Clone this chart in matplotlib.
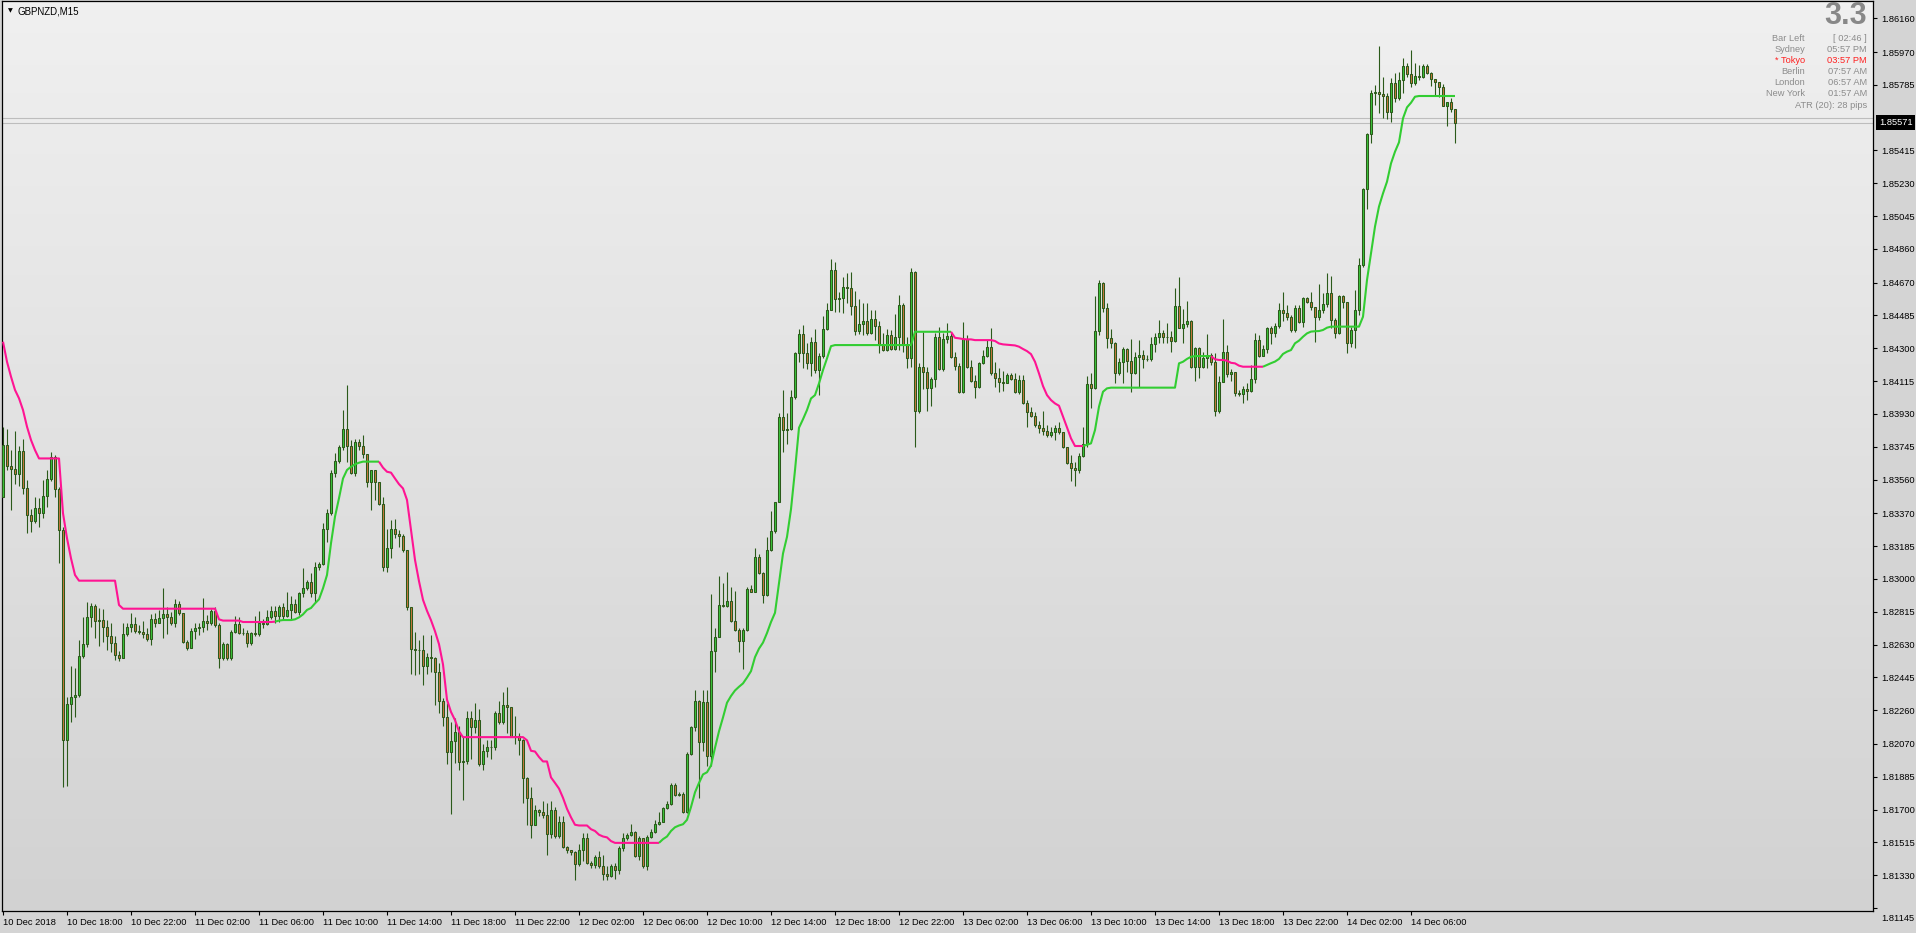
import numpy as np
import matplotlib
matplotlib.use('Agg')
import matplotlib.pyplot as plt
from matplotlib.colors import LinearSegmentedColormap
from matplotlib.transforms import ScaledTranslation

# ---- data (GBPNZD M15) ----
first_open = 1.83464

closes = [
    1.83755, 1.83636, 1.83618, 1.83589, 1.83721, 1.83511, 1.83358, 1.83328, 1.83398, 1.83373,  # 0
    1.83467, 1.83561, 1.83689, 1.83505, 1.83276, 1.82092, 1.82293, 1.82336, 1.82346, 1.82565,  # 10
    1.82631, 1.82783, 1.82847, 1.82763, 1.82768, 1.82731, 1.82678, 1.82640, 1.82569, 1.82552,  # 20
    1.82687, 1.82727, 1.82746, 1.82708, 1.82699, 1.82689, 1.82659, 1.82772, 1.82749, 1.82778,  # 30
    1.82802, 1.82783, 1.82753, 1.82857, 1.82806, 1.82646, 1.82612, 1.82706, 1.82721, 1.82731,  # 40
    1.82765, 1.82753, 1.82819, 1.82738, 1.82552, 1.82631, 1.82552, 1.82702, 1.82746, 1.82697,  # 50
    1.82693, 1.82640, 1.82693, 1.82689, 1.82749, 1.82747, 1.82787, 1.82819, 1.82791, 1.82843,  # 60
    1.82791, 1.82825, 1.82857, 1.82815, 1.82919, 1.82947, 1.82981, 1.82922, 1.83069, 1.83084,  # 70
    1.83279, 1.83370, 1.83599, 1.83665, 1.83742, 1.83843, 1.83751, 1.83595, 1.83770, 1.83751,  # 80
    1.83702, 1.83548, 1.83614, 1.83548, 1.83422, 1.83069, 1.83172, 1.83279, 1.83251, 1.83242,  # 90
    1.83163, 1.82843, 1.82603, 1.82599, 1.82601, 1.82507, 1.82559, 1.82553, 1.82476, 1.82309,  # 100
    1.82219, 1.82023, 1.82086, 1.82136, 1.81969, 1.81975, 1.82215, 1.82163, 1.82205, 1.81954,  # 110
    1.82031, 1.82054, 1.82052, 1.82246, 1.82194, 1.82288, 1.82277, 1.82111, 1.82115, 1.82090,  # 120
    1.81875, 1.81766, 1.81610, 1.81700, 1.81685, 1.81668, 1.81564, 1.81700, 1.81548, 1.81631,  # 130
    1.81491, 1.81470, 1.81458, 1.81391, 1.81470, 1.81537, 1.81401, 1.81385, 1.81433, 1.81381,  # 140
    1.81335, 1.81328, 1.81381, 1.81360, 1.81481, 1.81537, 1.81558, 1.81575, 1.81439, 1.81537,  # 150
    1.81381, 1.81543, 1.81575, 1.81621, 1.81631, 1.81708, 1.81731, 1.81839, 1.81783, 1.81787,  # 160
    1.81687, 1.82011, 1.82163, 1.82309, 1.82079, 1.82305, 1.82000, 1.82591, 1.82674, 1.82851,  # 170
    1.82845, 1.82878, 1.82762, 1.82710, 1.82649, 1.82711, 1.82941, 1.82928, 1.83122, 1.83035,  # 180
    1.82910, 1.83164, 1.83268, 1.83431, 1.83915, 1.83842, 1.83846, 1.84023, 1.84276, 1.84378,  # 190
    1.84271, 1.84218, 1.84333, 1.84177, 1.84256, 1.84406, 1.84515, 1.84741, 1.84576, 1.84581,  # 200
    1.84643, 1.84638, 1.84538, 1.84399, 1.84437, 1.84453, 1.84388, 1.84463, 1.84425, 1.84324,  # 210
    1.84290, 1.84373, 1.84294, 1.84361, 1.84544, 1.84324, 1.84243, 1.84728, 1.83949, 1.84192,  # 220
    1.84168, 1.84074, 1.84125, 1.84365, 1.84181, 1.84350, 1.84371, 1.84252, 1.84202, 1.84055,  # 230
    1.84352, 1.84196, 1.84117, 1.84083, 1.84215, 1.84256, 1.84305, 1.84158, 1.84134, 1.84111,  # 240
    1.84102, 1.84149, 1.84125, 1.84051, 1.84121, 1.83989, 1.83939, 1.83920, 1.83867, 1.83848,  # 250
    1.83835, 1.83811, 1.83830, 1.83852, 1.83826, 1.83741, 1.83651, 1.83623, 1.83614, 1.83692,  # 260
    1.83760, 1.84096, 1.84074, 1.84397, 1.84666, 1.84525, 1.84356, 1.84331, 1.84158, 1.84220,  # 270
    1.84296, 1.84230, 1.84162, 1.84252, 1.84262, 1.84237, 1.84239, 1.84322, 1.84365, 1.84384,  # 280
    1.84365, 1.84361, 1.84339, 1.84540, 1.84412, 1.84437, 1.84455, 1.84196, 1.84299, 1.84192,  # 290
    1.84243, 1.84262, 1.84220, 1.83949, 1.84108, 1.84281, 1.84153, 1.84164, 1.84046, 1.84040,  # 300
    1.84068, 1.84061, 1.84125, 1.84347, 1.84258, 1.84294, 1.84412, 1.84384, 1.84425, 1.84516,  # 310
    1.84497, 1.84478, 1.84403, 1.84525, 1.84450, 1.84581, 1.84563, 1.84531, 1.84478, 1.84516,  # 320
    1.84550, 1.84610, 1.84459, 1.84384, 1.84595, 1.84559, 1.84328, 1.84403, 1.84516, 1.84767,  # 330
    1.85196, 1.85506, 1.85737, 1.85746, 1.85731, 1.85724, 1.85630, 1.85793, 1.85709, 1.85812,  # 340
    1.85891, 1.85844, 1.85793, 1.85837, 1.85831, 1.85891, 1.85850, 1.85816, 1.85803, 1.85775,  # 350
    1.85667, 1.85686, 1.85647, 1.85571,                                                        # 360
]

highs = [
    1.83858, 1.83843, 1.83727, 1.83834, 1.83749, 1.83789, 1.83557, 1.83394, 1.83464, 1.83458,
    1.83557, 1.83614, 1.83717, 1.83698, 1.83520, 1.83294, 1.82336, 1.82511, 1.82500, 1.82656,
    1.82787, 1.82872, 1.82862, 1.82858, 1.82834, 1.82828, 1.82768, 1.82749, 1.82678, 1.82595,
    1.82749, 1.82749, 1.82806, 1.82783, 1.82740, 1.82763, 1.82725, 1.82802, 1.82806, 1.82825,
    1.82947, 1.82840, 1.82815, 1.82885, 1.82877, 1.82806, 1.82656, 1.82725, 1.82749, 1.82753,
    1.82890, 1.82797, 1.82828, 1.82843, 1.82753, 1.82646, 1.82637, 1.82712, 1.82791, 1.82783,
    1.82721, 1.82712, 1.82702, 1.82791, 1.82819, 1.82772, 1.82825, 1.82847, 1.82847, 1.82853,
    1.82866, 1.82928, 1.82904, 1.82885, 1.82928, 1.83060, 1.82994, 1.83031, 1.83097, 1.83097,
    1.83313, 1.83392, 1.83614, 1.83708, 1.83755, 1.83952, 1.84093, 1.83783, 1.83789, 1.83789,
    1.83811, 1.83702, 1.83614, 1.83614, 1.83548, 1.83464, 1.83281, 1.83332, 1.83336, 1.83276,
    1.83253, 1.83163, 1.82843, 1.82702, 1.82653, 1.82685, 1.82580, 1.82685, 1.82559, 1.82528,
    1.82330, 1.82298, 1.82194, 1.82215, 1.82173, 1.82111, 1.82257, 1.82257, 1.82302, 1.82267,
    1.82069, 1.82090, 1.82090, 1.82257, 1.82309, 1.82361, 1.82392, 1.82271, 1.82225, 1.82132,
    1.82100, 1.81881, 1.81829, 1.81725, 1.81704, 1.81746, 1.81735, 1.81746, 1.81714, 1.81662,
    1.81662, 1.81495, 1.81468, 1.81464, 1.81506, 1.81568, 1.81568, 1.81412, 1.81443, 1.81464,
    1.81443, 1.81381, 1.81391, 1.81401, 1.81495, 1.81568, 1.81568, 1.81620, 1.81579, 1.81548,
    1.81537, 1.81558, 1.81589, 1.81641, 1.81687, 1.81714, 1.81746, 1.81850, 1.81850, 1.81797,
    1.81797, 1.82027, 1.82173, 1.82371, 1.82319, 1.82371, 1.82371, 1.82913, 1.82726, 1.83018,
    1.82976, 1.83039, 1.82955, 1.82934, 1.82726, 1.82726, 1.82955, 1.82966, 1.83174, 1.83143,
    1.83039, 1.83237, 1.83383, 1.83435, 1.83936, 1.84067, 1.83936, 1.84067, 1.84280, 1.84409,
    1.84431, 1.84327, 1.84365, 1.84406, 1.84271, 1.84482, 1.84553, 1.84803, 1.84784, 1.84619,
    1.84703, 1.84722, 1.84728, 1.84623, 1.84576, 1.84557, 1.84553, 1.84515, 1.84515, 1.84453,
    1.84384, 1.84406, 1.84403, 1.84493, 1.84600, 1.84557, 1.84365, 1.84750, 1.84737, 1.84215,
    1.84393, 1.84196, 1.84140, 1.84388, 1.84421, 1.84388, 1.84440, 1.84384, 1.84277, 1.84215,
    1.84450, 1.84374, 1.84234, 1.84149, 1.84224, 1.84290, 1.84346, 1.84412, 1.84224, 1.84190,
    1.84172, 1.84158, 1.84158, 1.84158, 1.84149, 1.84149, 1.84009, 1.83971, 1.83942, 1.83892,
    1.83948, 1.83867, 1.83858, 1.83867, 1.83882, 1.83830, 1.83745, 1.83698, 1.83661, 1.83707,
    1.83858, 1.84143, 1.84158, 1.84594, 1.84685, 1.84675, 1.84553, 1.84406, 1.84337, 1.84243,
    1.84309, 1.84299, 1.84350, 1.84281, 1.84346, 1.84290, 1.84262, 1.84365, 1.84384, 1.84459,
    1.84403, 1.84444, 1.84399, 1.84638, 1.84703, 1.84519, 1.84566, 1.84459, 1.84309, 1.84309,
    1.84281, 1.84378, 1.84271, 1.84275, 1.84145, 1.84465, 1.84318, 1.84183, 1.84168, 1.84065,
    1.84087, 1.84102, 1.84206, 1.84384, 1.84375, 1.84318, 1.84422, 1.84425, 1.84440, 1.84553,
    1.84619, 1.84544, 1.84487, 1.84544, 1.84544, 1.84591, 1.84591, 1.84619, 1.84534, 1.84660,
    1.84610, 1.84722, 1.84709, 1.84469, 1.84600, 1.84600, 1.84563, 1.84422, 1.84628, 1.84807,
    1.85201, 1.85511, 1.85756, 1.85784, 1.86004, 1.85831, 1.85737, 1.85822, 1.85850, 1.85859,
    1.85934, 1.85906, 1.85981, 1.85906, 1.85897, 1.85900, 1.85900, 1.85859, 1.85812, 1.85803,
    1.85790, 1.85690, 1.85709, 1.85647,
]

lows = [
    1.83464, 1.83614, 1.83388, 1.83533, 1.83524, 1.83477, 1.83257, 1.83262, 1.83313, 1.83291,
    1.83341, 1.83407, 1.83554, 1.83464, 1.83092, 1.81825, 1.81834, 1.82195, 1.82223, 1.82336,
    1.82552, 1.82618, 1.82731, 1.82665, 1.82622, 1.82646, 1.82599, 1.82590, 1.82543, 1.82539,
    1.82552, 1.82680, 1.82702, 1.82693, 1.82687, 1.82665, 1.82652, 1.82627, 1.82731, 1.82749,
    1.82665, 1.82689, 1.82740, 1.82731, 1.82797, 1.82637, 1.82599, 1.82609, 1.82659, 1.82684,
    1.82702, 1.82712, 1.82740, 1.82731, 1.82496, 1.82543, 1.82543, 1.82543, 1.82693, 1.82689,
    1.82684, 1.82614, 1.82627, 1.82678, 1.82678, 1.82725, 1.82738, 1.82776, 1.82749, 1.82759,
    1.82768, 1.82783, 1.82768, 1.82806, 1.82797, 1.82900, 1.82937, 1.82900, 1.82872, 1.83050,
    1.83078, 1.83210, 1.83360, 1.83576, 1.83651, 1.83727, 1.83661, 1.83591, 1.83580, 1.83727,
    1.83680, 1.83520, 1.83388, 1.83445, 1.83417, 1.83046, 1.83041, 1.83116, 1.83229, 1.83182,
    1.83154, 1.82825, 1.82462, 1.82458, 1.82465, 1.82403, 1.82465, 1.82476, 1.82288, 1.82246,
    1.82173, 1.81954, 1.81673, 1.81965, 1.81923, 1.81756, 1.81954, 1.81986, 1.82132, 1.81948,
    1.81923, 1.81996, 1.81986, 1.82038, 1.82184, 1.82184, 1.82132, 1.82111, 1.82069, 1.82007,
    1.81735, 1.81610, 1.81537, 1.81610, 1.81662, 1.81652, 1.81443, 1.81537, 1.81537, 1.81537,
    1.81485, 1.81453, 1.81443, 1.81301, 1.81381, 1.81412, 1.81391, 1.81370, 1.81370, 1.81370,
    1.81301, 1.81301, 1.81318, 1.81308, 1.81339, 1.81464, 1.81527, 1.81548, 1.81433, 1.81418,
    1.81370, 1.81360, 1.81537, 1.81568, 1.81610, 1.81631, 1.81704, 1.81725, 1.81777, 1.81777,
    1.81683, 1.81683, 1.82007, 1.82142, 1.81766, 1.82031, 1.81944, 1.81948, 1.82476, 1.82670,
    1.82841, 1.82841, 1.82757, 1.82705, 1.82590, 1.82490, 1.82709, 1.82924, 1.82934, 1.83028,
    1.82862, 1.82903, 1.83158, 1.83258, 1.83477, 1.83717, 1.83763, 1.83842, 1.84013, 1.84222,
    1.84187, 1.84181, 1.84143, 1.84158, 1.84036, 1.84243, 1.84403, 1.84515, 1.84506, 1.84506,
    1.84500, 1.84553, 1.84487, 1.84375, 1.84380, 1.84375, 1.84375, 1.84378, 1.84346, 1.84271,
    1.84286, 1.84286, 1.84290, 1.84290, 1.84290, 1.84281, 1.84187, 1.84196, 1.83746, 1.83933,
    1.84068, 1.83948, 1.83976, 1.84083, 1.84177, 1.84173, 1.84331, 1.84243, 1.84177, 1.84049,
    1.84049, 1.84187, 1.84111, 1.84017, 1.84074, 1.84211, 1.84249, 1.84149, 1.84083, 1.84055,
    1.84061, 1.84102, 1.84121, 1.84046, 1.84042, 1.83986, 1.83858, 1.83914, 1.83858, 1.83820,
    1.83811, 1.83801, 1.83798, 1.83783, 1.83816, 1.83736, 1.83647, 1.83553, 1.83525, 1.83595,
    1.83685, 1.83745, 1.83961, 1.84068, 1.84375, 1.84506, 1.84299, 1.84299, 1.84102, 1.84149,
    1.84106, 1.84168, 1.84055, 1.84155, 1.84083, 1.84187, 1.84230, 1.84230, 1.84277, 1.84327,
    1.84327, 1.84327, 1.84281, 1.84337, 1.84412, 1.84327, 1.84418, 1.84187, 1.84115, 1.84130,
    1.84187, 1.84187, 1.84205, 1.83920, 1.83933, 1.84108, 1.84140, 1.84115, 1.84031, 1.84033,
    1.83989, 1.84008, 1.84055, 1.84102, 1.84252, 1.84258, 1.84275, 1.84322, 1.84365, 1.84416,
    1.84456, 1.84459, 1.84393, 1.84393, 1.84440, 1.84422, 1.84553, 1.84516, 1.84337, 1.84459,
    1.84497, 1.84534, 1.84416, 1.84356, 1.84380, 1.84525, 1.84275, 1.84305, 1.84303, 1.84487,
    1.84760, 1.85085, 1.85455, 1.85671, 1.85624, 1.85596, 1.85592, 1.85577, 1.85690, 1.85699,
    1.85737, 1.85831, 1.85771, 1.85784, 1.85812, 1.85822, 1.85844, 1.85778, 1.85728, 1.85718,
    1.85666, 1.85555, 1.85634, 1.85455,
]

# trailing indicator line
trail = [
    1.84337, 1.84224, 1.84140, 1.84065, 1.84018, 1.83952, 1.83858, 1.83783, 1.83726, 1.83679,
    1.83679, 1.83679, 1.83679, 1.83679, 1.83679, 1.83370, 1.83229, 1.83116, 1.83022, 1.82990,
    1.82990, 1.82990, 1.82990, 1.82990, 1.82990, 1.82990, 1.82990, 1.82990, 1.82990, 1.82853,
    1.82832, 1.82832, 1.82832, 1.82832, 1.82832, 1.82832, 1.82832, 1.82832, 1.82832, 1.82832,
    1.82832, 1.82832, 1.82832, 1.82832, 1.82832, 1.82832, 1.82832, 1.82832, 1.82832, 1.82832,
    1.82832, 1.82832, 1.82832, 1.82832, 1.82772, 1.82765, 1.82765, 1.82765, 1.82765, 1.82765,
    1.82757, 1.82757, 1.82757, 1.82757, 1.82757, 1.82757, 1.82757, 1.82757, 1.82759, 1.82765,
    1.82768, 1.82768, 1.82768, 1.82772, 1.82783, 1.82800, 1.82825, 1.82836, 1.82862, 1.82885,
    1.82947, 1.83022, 1.83201, 1.83351, 1.83455, 1.83566, 1.83614, 1.83632, 1.83646, 1.83655,
    1.83661, 1.83661, 1.83661, 1.83661, 1.83661, 1.83627, 1.83604, 1.83599, 1.83566, 1.83534,
    1.83510, 1.83445, 1.83276, 1.83107, 1.82987, 1.82882, 1.82820, 1.82767, 1.82705, 1.82632,
    1.82518, 1.82319, 1.82250, 1.82204, 1.82141, 1.82108, 1.82108, 1.82108, 1.82108, 1.82108,
    1.82108, 1.82108, 1.82108, 1.82108, 1.82108, 1.82108, 1.82108, 1.82108, 1.82108, 1.82108,
    1.82108, 1.82090, 1.82031, 1.82027, 1.81996, 1.81971, 1.81971, 1.81881, 1.81850, 1.81818,
    1.81766, 1.81704, 1.81656, 1.81614, 1.81610, 1.81610, 1.81610, 1.81589, 1.81579, 1.81558,
    1.81548, 1.81543, 1.81522, 1.81512, 1.81512, 1.81512, 1.81512, 1.81512, 1.81512, 1.81512,
    1.81512, 1.81512, 1.81512, 1.81512, 1.81512, 1.81533, 1.81548, 1.81579, 1.81600, 1.81610,
    1.81617, 1.81642, 1.81714, 1.81797, 1.81850, 1.81898, 1.81910, 1.81948, 1.82048, 1.82141,
    1.82219, 1.82302, 1.82340, 1.82371, 1.82392, 1.82411, 1.82444, 1.82480, 1.82559, 1.82607,
    1.82641, 1.82695, 1.82757, 1.82809, 1.82976, 1.83143, 1.83237, 1.83393, 1.83613, 1.83852,
    1.83900, 1.83952, 1.84017, 1.84036, 1.84102, 1.84177, 1.84243, 1.84312, 1.84318, 1.84318,
    1.84318, 1.84318, 1.84318, 1.84318, 1.84318, 1.84318, 1.84318, 1.84318, 1.84318, 1.84318,
    1.84318, 1.84318, 1.84318, 1.84318, 1.84318, 1.84318, 1.84318, 1.84318, 1.84393, 1.84393,
    1.84393, 1.84393, 1.84393, 1.84393, 1.84393, 1.84393, 1.84393, 1.84393, 1.84359, 1.84356,
    1.84352, 1.84350, 1.84350, 1.84346, 1.84346, 1.84346, 1.84346, 1.84346, 1.84341, 1.84327,
    1.84322, 1.84320, 1.84318, 1.84316, 1.84309, 1.84296, 1.84284, 1.84267, 1.84224, 1.84158,
    1.84087, 1.84036, 1.84008, 1.83989, 1.83976, 1.83915, 1.83854, 1.83792, 1.83749, 1.83749,
    1.83749, 1.83756, 1.83764, 1.83839, 1.83971, 1.84055, 1.84074, 1.84078, 1.84078, 1.84078,
    1.84078, 1.84078, 1.84078, 1.84078, 1.84078, 1.84078, 1.84078, 1.84078, 1.84078, 1.84078,
    1.84078, 1.84078, 1.84078, 1.84078, 1.84215, 1.84224, 1.84240, 1.84252, 1.84256, 1.84256,
    1.84256, 1.84256, 1.84256, 1.84238, 1.84234, 1.84234, 1.84230, 1.84218, 1.84215, 1.84202,
    1.84196, 1.84196, 1.84196, 1.84196, 1.84196, 1.84196, 1.84206, 1.84216, 1.84225, 1.84240,
    1.84268, 1.84281, 1.84290, 1.84328, 1.84343, 1.84365, 1.84384, 1.84394, 1.84396, 1.84397,
    1.84403, 1.84416, 1.84422, 1.84422, 1.84422, 1.84422, 1.84422, 1.84422, 1.84422, 1.84422,
    1.84478, 1.84685, 1.84835, 1.84986, 1.85099, 1.85173, 1.85239, 1.85342, 1.85408, 1.85461,
    1.85596, 1.85658, 1.85684, 1.85718, 1.85722, 1.85722, 1.85722, 1.85722, 1.85722, 1.85722,
    1.85722, 1.85722, 1.85722, 1.85722,
]

# trend segments of the indicator: (first bar, last bar, direction)
trend_segments = [(0, 68, 'down'), (68, 94, 'up'), (94, 164, 'down'), (164, 237, 'up'),
                  (237, 270, 'down'), (270, 302, 'up'), (302, 315, 'down'), (315, 363, 'up')]

bid = 1.85571
ask = 1.85596

price_ticks = [1.86160, 1.85970, 1.85785, 1.85415, 1.85230, 1.85045, 1.84860, 1.84670,
               1.84485, 1.84300, 1.84115, 1.83930, 1.83745, 1.83560, 1.83370, 1.83185,
               1.83000, 1.82815, 1.82630, 1.82445, 1.82260, 1.82070, 1.81885, 1.81700,
               1.81515, 1.81330, 1.81145]

time_labels = ['10 Dec 2018', '10 Dec 18:00', '10 Dec 22:00', '11 Dec 02:00', '11 Dec 06:00',
               '11 Dec 10:00', '11 Dec 14:00', '11 Dec 18:00', '11 Dec 22:00', '12 Dec 02:00',
               '12 Dec 06:00', '12 Dec 10:00', '12 Dec 14:00', '12 Dec 18:00', '12 Dec 22:00',
               '13 Dec 02:00', '13 Dec 06:00', '13 Dec 10:00', '13 Dec 14:00', '13 Dec 18:00',
               '13 Dec 22:00', '14 Dec 02:00', '14 Dec 06:00']
bars_per_label = 16

clock_names = ['Bar Left', 'Sydney', '* Tokyo', 'Berlin', 'London', 'New York']
clock_values = ['[ 02:46 ]', '05:57 PM', '03:57 PM', '07:57 AM', '06:57 AM', '01:57 AM']
atr_text = 'ATR (20): 28 pips'
spread_text = '3.3'
symbol = 'GBPNZD,M15'

# ---- style ----
W, H = 1916, 933
FONT = 'Liberation Sans'
bull_fill = '#3bc43b'
bear_fill = '#c8773d'
candle_edge = '#2b5a1a'
up_col = '#32cd32'
down_col = '#ff1493'
grey_txt = '#8c8c8c'

def fx(px):
    return px / W

def fy(py):
    return 1 - py / H

closes = np.array(closes)
highs = np.array(highs)
lows = np.array(lows)
trail = np.array(trail)
n = len(closes)
x = np.arange(n)
opens = np.r_[first_open, closes[:-1]]

fig = plt.figure(figsize=(W / 100, H / 100), dpi=100, facecolor='#d4d4d4')
ax = fig.add_axes([fx(2), 22 / H, 1871 / W, 910 / H])

x0, x1 = -0.25, 467.5
y0, y1 = 1.81128, 1.862575
ax.set_xlim(x0, x1)
ax.set_ylim(y0, y1)

# background gradient
bg = LinearSegmentedColormap.from_list('bg', ['#d2d2d2', '#f0f0f0'])
ax.imshow(np.linspace(0, 1, 256).reshape(-1, 1), extent=[x0, x1, y0, y1],
          aspect='auto', origin='lower', cmap=bg, zorder=0)

# bid / ask lines
ax.axhline(ask, color='#bdbdbd', lw=0.8, zorder=1)
ax.axhline(bid, color='#bdbdbd', lw=0.8, zorder=1)

# candles
up = closes >= opens
ax.vlines(x, lows, highs, color=candle_edge, lw=0.8, zorder=2)
body = np.where(np.abs(closes - opens) < 0.00002, 0.00002, closes - opens)
ax.bar(x, body, bottom=opens, width=0.55, color=np.where(up, bull_fill, bear_fill),
       edgecolor=candle_edge, linewidth=0.75, zorder=3)

# trailing line
for a, b, d in trend_segments:
    ax.plot(x[a:b + 1], trail[a:b + 1], color=up_col if d == 'up' else down_col,
            lw=1.5, solid_capstyle='butt', zorder=4)

# axes look
for s in ax.spines.values():
    s.set_color('black')
    s.set_linewidth(0.9)
ax.yaxis.tick_right()
ax.set_yticks(price_ticks)
ax.set_yticklabels(['%.5f' % p for p in price_ticks])
ax.tick_params(axis='y', direction='out', length=3, width=0.8, pad=3,
               labelsize=6.7, colors='black')
ax.set_xticks(np.arange(len(time_labels)) * bars_per_label)
ax.set_xticklabels(time_labels)
ax.tick_params(axis='x', direction='out', length=3, width=0.8, pad=2,
               labelsize=6.7, colors='black')
for lbl in ax.get_xticklabels():
    lbl.set_ha('left')
    lbl.set_family(FONT)
ylabels = ax.get_yticklabels()
for lbl in ylabels:
    lbl.set_family(FONT)
# the terminal pushes its lowest price label below the frame
ylabels[-1].set_transform(ylabels[-1].get_transform() +
                          ScaledTranslation(0, -0.1, fig.dpi_scale_trans))

# current price box
ax.text(1.0032, bid, '%.5f' % bid, transform=ax.get_yaxis_transform(), ha='left',
        va='center', color='white', fontsize=6.7, family=FONT, clip_on=False, zorder=10,
        bbox=dict(boxstyle='square,pad=0.3', fc='black', ec='none'))

# symbol title
fig.text(fx(10), fy(11), '\u25bc', fontsize=4.5, ha='center', va='center', color='black',
         family='DejaVu Sans')
fig.text(fx(17), fy(11), symbol, fontsize=7, ha='left', va='center', color='black',
         family=FONT)

# info panel
fig.text(fx(1867), fy(16), spread_text, fontsize=22, fontweight='bold', ha='right',
         va='center', color='#888888', family=FONT)
for i, (nm, val) in enumerate(zip(clock_names, clock_values)):
    c = '#ff2020' if 'Tokyo' in nm else grey_txt
    yy = 38.7 + 10.9 * i
    fig.text(fx(1805), fy(yy), nm, fontsize=6.7, ha='right', va='center', color=c,
             family=FONT)
    fig.text(fx(1867), fy(yy), val, fontsize=6.7, ha='right', va='center', color=c,
             family=FONT)
fig.text(fx(1867), fy(105), atr_text, fontsize=6.7, ha='right', va='center',
         color=grey_txt, family=FONT)

fig.savefig('out.png', dpi=100, facecolor=fig.get_facecolor())
